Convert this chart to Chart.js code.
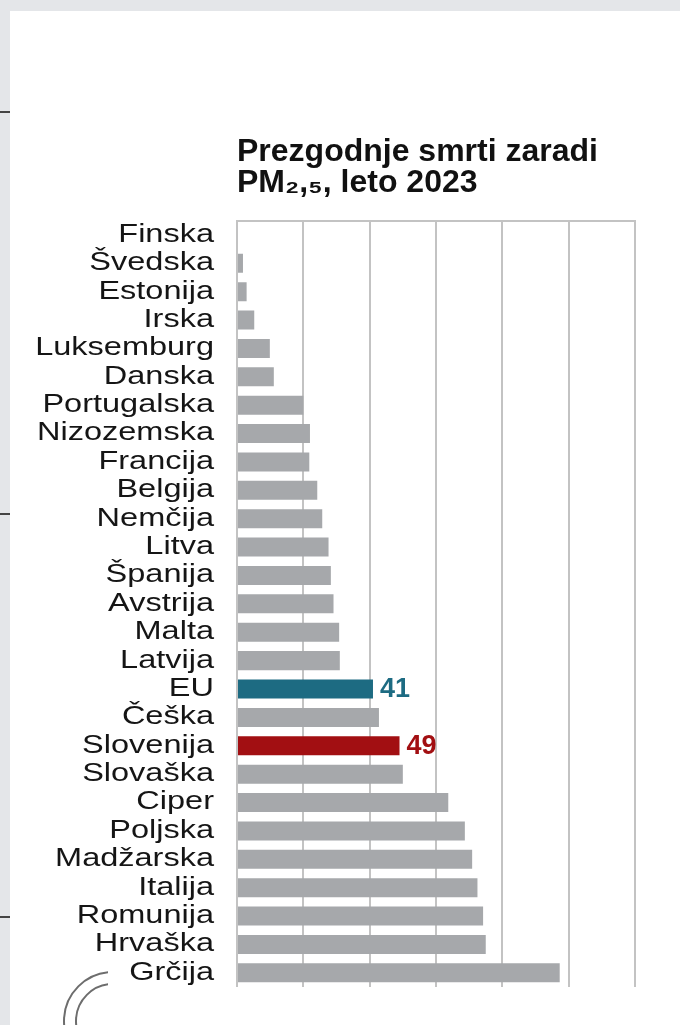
<!DOCTYPE html>
<html>
<head>
<meta charset="utf-8">
<script src="https://cdn.jsdelivr.net/npm/chart.js@4"></script>
<style>
  html, body { margin: 0; padding: 0; }
  body { width: 680px; height: 1025px; background: #e4e6e9; position: relative; overflow: hidden; }
  #panel { position: absolute; left: 10px; top: 11px; right: 0; bottom: 0; background: #fff; }
  .dash { position: absolute; left: 0; width: 10px; height: 2px; background: #444; }
  .clip { position: absolute; overflow: hidden; }
  .ring { position: absolute; left: 0; top: 0; border: 2px solid #6d6d6d; border-radius: 50%; box-sizing: border-box; }
  #wrap { position: absolute; left: 0; top: 0; width: 680px; height: 1025px; }
</style>
</head>
<body>
<div id="panel"></div>
<div class="dash" style="top:111px"></div>
<div class="dash" style="top:513px"></div>
<div class="dash" style="top:916px"></div>
<div class="clip" style="left:63px; top:971px; width:45px; height:54px;">
  <div class="ring" style="width:100px; height:100px;"></div>
  <div class="ring" style="left:12px; top:12px; width:76px; height:76px;"></div>
</div>
<div id="wrap"><canvas id="chart" width="680" height="1025"></canvas></div>
<script>
var countries = ['Finska', 'Švedska', 'Estonija', 'Irska', 'Luksemburg', 'Danska', 'Portugalska',
    'Nizozemska', 'Francija', 'Belgija', 'Nemčija', 'Litva', 'Španija', 'Avstrija', 'Malta',
    'Latvija', 'EU', 'Češka', 'Slovenija', 'Slovaška', 'Ciper', 'Poljska', 'Madžarska',
    'Italija', 'Romunija', 'Hrvaška', 'Grčija'];
var deaths = [0.3, 1.8, 2.9, 5.2, 9.9, 11.1, 20, 22, 21.8, 24.2, 25.7, 27.6, 28.3, 29.1, 30.8,
    31, 41, 42.8, 49, 50, 63.7, 68.7, 70.9, 72.5, 74.2, 75, 97.3];
var xTicks = [0, 20, 40, 60, 80, 100, 120];
var labelled = ['EU', 'Slovenija'];

var barGray = '#a6a8ab';
var highlightColors = { 'EU': '#1d6b82', 'Slovenija': '#a20f12' };
var gridColor = '#c3c3c3';

var barColors = countries.map(c => highlightColors[c] || barGray);

// the printed graphic uses a wide face: stretch the category labels sideways
// around their common right edge
var wideLabels = {
    id: 'wideLabels',
    afterLayout(chart) {
        var y = chart.scales.y;
        if (y._wide) return;
        var draw = y.drawLabels.bind(y);
        y.drawLabels = function (area) {
            var c = chart.ctx;
            var edge = y.right - y.options.ticks.padding;
            c.save();
            c.translate(edge, 0);
            c.scale(1.3, 1);
            c.translate(-edge, 0);
            draw(area);
            c.restore();
        };
        y._wide = true;
    }
};

var valueLabels = {
    id: 'valueLabels',
    afterDatasetsDraw(chart) {
        var ctx = chart.ctx;
        var meta = chart.getDatasetMeta(0);
        ctx.save();
        ctx.font = 'bold 27px "Liberation Sans", Arial, sans-serif';
        ctx.textBaseline = 'middle';
        ctx.textAlign = 'left';
        labelled.forEach(name => {
            var i = countries.indexOf(name);
            var bar = meta.data[i];
            ctx.fillStyle = highlightColors[name];
            ctx.fillText(String(deaths[i]), bar.x + 7, bar.y + 1);
        });
        ctx.restore();
    }
};

var ctx = document.getElementById('chart').getContext('2d');
var chart = new Chart(ctx, {
    type: 'bar',
    data: {
        labels: countries,
        datasets: [{
            data: deaths,
            backgroundColor: barColors,
            borderWidth: 0,
            categoryPercentage: 1,
            barPercentage: 0.67
        }]
    },
    options: {
        indexAxis: 'y',
        responsive: false,
        animation: false,
        layout: {
            padding: { left: 0, right: 45, top: 136, bottom: 37 }
        },
        scales: {
            x: {
                position: 'top',
                min: xTicks[0],
                max: xTicks[xTicks.length - 1],
                afterBuildTicks: scale => { scale.ticks = xTicks.map(v => ({ value: v })); },
                ticks: { display: false },
                grid: { color: gridColor, lineWidth: 2, drawTicks: false },
                border: { display: true, color: gridColor, width: 2 }
            },
            y: {
                afterFit: scale => { scale.width = 237; },
                grid: { display: false, drawTicks: false },
                border: { display: false },
                ticks: {
                    autoSkip: false,
                    padding: 23,
                    color: '#151515',
                    font: { family: '"Liberation Sans", Arial, sans-serif', size: 25 }
                }
            }
        },
        plugins: {
            legend: { display: false },
            tooltip: { enabled: false },
            title: {
                display: true,
                fullSize: false,
                align: 'start',
                text: ['Prezgodnje smrti zaradi', 'PM₂,₅, leto 2023'],
                color: '#111',
                font: { family: '"Liberation Sans", Arial, sans-serif', size: 32, weight: 'bold', lineHeight: 0.98 },
                padding: { top: 0, bottom: 22 }
            }
        }
    },
    plugins: [wideLabels, valueLabels]
});
</script>
</body>
</html>
